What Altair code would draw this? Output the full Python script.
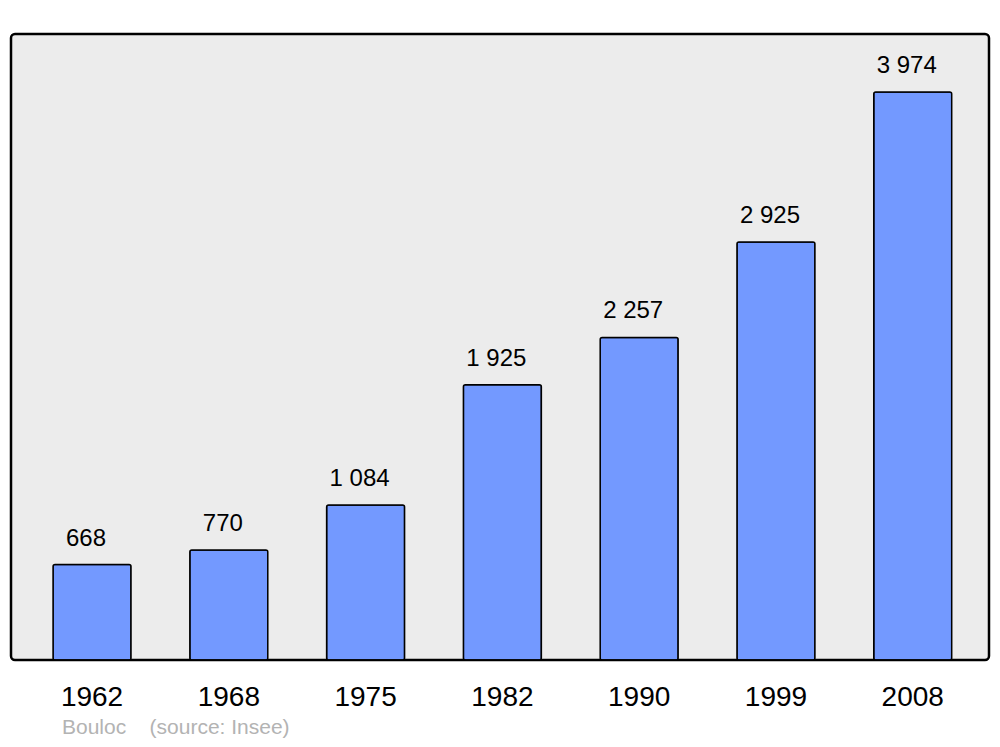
import altair as alt
import pandas as pd

years = ["1962", "1968", "1975", "1982", "1990", "1999", "2008"]
population = [668, 770, 1084, 1925, 2257, 2925, 3974]
labels = ["668", "770", "1 084", "1 925", "2 257", "2 925", "3 974"]
footer = ["Bouloc\u00a0\u00a0\u00a0\u00a0(source: Insee)"]

df = pd.DataFrame({"year": years, "pop": population, "label": labels})
foot = pd.DataFrame({"t": footer})

FONT = "Liberation Sans"

x = alt.X(
    "year:N",
    sort=years,
    scale=alt.Scale(paddingInner=0.43, paddingOuter=0.29, align=0.53),
    axis=alt.Axis(
        title=None, ticks=False, domain=False, labelAngle=0,
        labelFontSize=28, labelFont=FONT, labelColor="black",
        labelBaseline="alphabetic", labelPadding=45,
    ),
)
y = alt.Y("pop:Q", scale=alt.Scale(domain=[0, 4380], nice=False), axis=None)

bars = alt.Chart(df).mark_bar(
    color="#7399ff", stroke="black", strokeWidth=1.5, cornerRadius=2
).encode(x=x, y=y)

text = alt.Chart(df).mark_text(
    baseline="alphabetic", dy=-19, dx=-6, fontSize=24, font=FONT, color="black"
).encode(x=x, y=y, text="label:N")

ftxt = alt.Chart(foot).mark_text(
    align="left", baseline="alphabetic", fontSize=21, font=FONT, color="#b3b3b3"
).encode(x=alt.value(51), y=alt.value(700), text="t:N")

chart = alt.layer(bars, text, ftxt).properties(
    width=978, height=626,
    autosize=alt.AutoSizeParams(type="none"),
    padding={"left": 3, "top": 26, "right": 3, "bottom": 79},
).configure_view(
    fill="#ececec", stroke="black", strokeWidth=2.5, cornerRadius=4
)

chart.save("out.html", embed_options={"renderer": "svg", "actions": False})
